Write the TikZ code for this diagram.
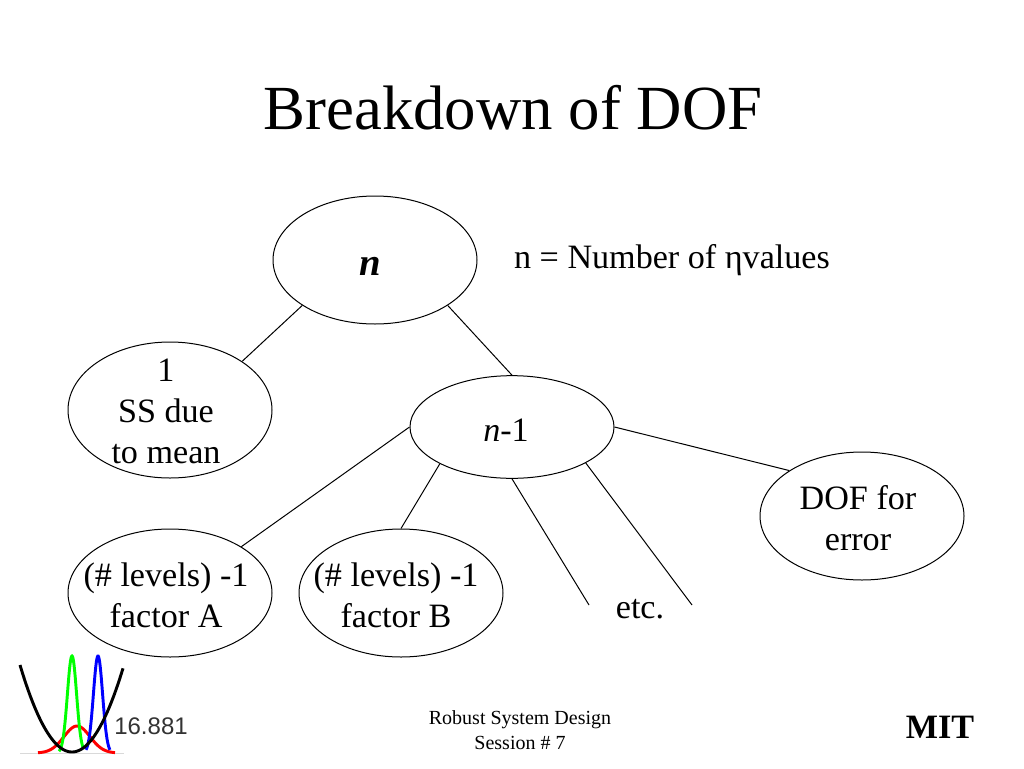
\documentclass[tikz,border=0pt]{standalone}
\usepackage{fontspec}
\setmainfont{Liberation Serif}
\newfontfamily\logofont{Liberation Sans}
\usetikzlibrary{shapes.geometric}
\tikzset{
  oval/.style={draw, ellipse, line width=0.75pt, inner sep=0pt, minimum width=153pt},
  plaintext/.style={inner sep=0pt, align=center, font=\fontsize{25.6}{30.8}\selectfont},
  foot/.style={inner sep=0pt, align=center, font=\fontsize{15}{18.5}\selectfont},
  curve/.style={line width=2.2pt, samples=60, smooth}
}
\begin{document}
\begin{tikzpicture}[x=0.75pt, y=-0.75pt]
\useasboundingbox (0,0) rectangle (1024,768);
\node[plaintext, font=\fontsize{47.1}{56}\selectfont] (title) at (513,108) {Breakdown of DOF};
\node[plaintext] (note) at (672,260) {n = Number of ηvalues};
%
\node[oval, minimum height=96pt] (total) at (375,260) {};
\node[oval, minimum height=102pt] (mean) at (170,410) {};
\node[oval, minimum height=77pt] (rest) at (512,427) {};
\node[oval, minimum height=96pt] (error) at (862,516) {};
\node[oval, minimum height=96pt] (factora) at (170,593) {};
\node[oval, minimum height=96pt] (factorb) at (401,593) {};
%
\node[inner sep=0pt, font=\fontsize{29}{34}\selectfont\bfseries\itshape] (totaltext) at (370,266) {n};
\node[plaintext] (meantext) at (166,411) {1\\SS due\\to mean};
\node[plaintext] (resttext) at (506,430) {\textit{n}-1};
\node[plaintext] (errortext) at (858,518) {DOF for\\error};
\node[plaintext] (factoratext) at (166,595) {(\# levels) -1\\factor A};
\node[plaintext] (factorbtext) at (396,595) {(\# levels) -1\\factor B};
\node[plaintext] (etc) at (640,609) {etc.};
\coordinate (etcleft) at (589,605);
\coordinate (etcright) at (692,605);
%
\draw[line width=0.75pt] (total.212) -- (mean.34);
\draw[line width=0.75pt] (total.-32) -- (rest.north);
\draw[line width=0.75pt] (rest.west) -- (factora.33);
\draw[line width=0.75pt] (rest.207) -- (factorb.north);
\draw[line width=0.75pt] (rest.south) -- (etcleft);
\draw[line width=0.75pt] (rest.-26) -- (etcright);
\draw[line width=0.75pt] (rest.east) -- (error.148);
%
\node[foot] (session) at (520,730) {Robust System Design\\Session \# 7};
\node[inner sep=0pt, font=\fontsize{25.6}{30}\selectfont\bfseries] (mit) at (940,727) {MIT};
\node[inner sep=0pt, font=\logofont\fontsize{18}{22}\selectfont, text=black!80] (course) at (151,726) {16.881};
%
\draw[black!15] (20,753) -- (124,753);
\draw[curve, red, domain=38:115] plot (\x,{753-27*exp(-((\x-77)/13)^2/2)});
\draw[curve, green, domain=59:83] plot (\x,{753-97*exp(-((\x-72)/4.6)^2/2)});
\draw[curve, blue, domain=86:110] plot (\x,{753-97*exp(-((\x-98)/4.6)^2/2)});
\draw[curve, black, domain=20:123] plot (\x,{752-87*((\x-72)/52)^2});
\end{tikzpicture}
\end{document}
